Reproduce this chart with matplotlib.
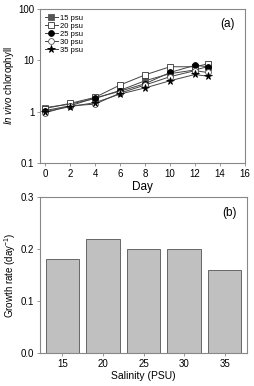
import matplotlib
matplotlib.use("Agg")
import matplotlib.pyplot as plt

plt.rcParams['font.family'] = ['Liberation Sans', 'DejaVu Sans']
plt.rcParams['mathtext.fontset'] = 'custom'
plt.rcParams['mathtext.rm'] = 'Liberation Sans'
plt.rcParams['mathtext.it'] = 'Liberation Sans:italic'

days = [0, 2, 4, 6, 8, 10, 12, 13]
psu15 = [1.2, 1.4, 1.8, 2.6, 4.0, 5.5, 6.5, 7.5]
psu20 = [1.15, 1.45, 1.9, 3.3, 5.2, 7.5, 7.5, 8.5]
psu25 = [1.05, 1.3, 1.85, 2.5, 3.5, 5.8, 8.0, 7.5]
psu30 = [0.95, 1.3, 1.4, 2.3, 3.3, 4.8, 6.3, 5.8]
psu35 = [1.0, 1.25, 1.5, 2.2, 2.9, 4.0, 5.3, 4.9]

salinity = ['15', '20', '25', '30', '35']
growth = [0.18, 0.22, 0.20, 0.20, 0.16]

fig = plt.figure(figsize=(2.54, 3.86), dpi=100)
ax1 = fig.add_axes([40/254, 1-163/386, 205/254, 154/386])
ax2 = fig.add_axes([40/254, 1-353/386, 207/254, 156/386])

fs = 7
series = [
    (psu15, 's', '#555555', '#555555', '15 psu'),
    (psu20, 's', 'white', '#333333', '20 psu'),
    (psu25, 'o', 'black', 'black', '25 psu'),
    (psu30, 'o', 'white', '#555555', '30 psu'),
    (psu35, '*', 'black', 'black', '35 psu'),
]
for vals, m, fc, ec, lab in series:
    ax1.plot(days, vals, marker=m, color='#444444', lw=0.7, mfc=fc, mec=ec,
             ms=4.2 if m != '*' else 5.5, mew=0.6, label=lab)
ax1.set_yscale('log')
ax1.set_ylim(0.1, 100)
ax1.set_xlim(-0.4, 16)
ax1.set_xticks(range(0, 17, 2))
ax1.set_yticks([0.1, 1, 10, 100])
ax1.set_yticklabels(['0.1', '1', '10', '100'])
ax1.minorticks_off()
ax1.set_xlabel('Day', fontsize=8.5, labelpad=1.5)
ax1.set_ylabel(r'$\it{In\ vivo}$ chlorophyll', fontsize=7, labelpad=2)
ax1.text(0.95, 0.90, '(a)', transform=ax1.transAxes, ha='right', va='center', fontsize=8.5)
leg = ax1.legend(loc='upper left', fontsize=5.5, frameon=False, handlelength=1.6,
                 handletextpad=0.3, labelspacing=0.1, borderaxespad=0.3)

x = list(range(len(salinity)))
ax2.bar(x, growth, width=0.82, color='#c0c0c0', edgecolor='#666666', lw=0.7)
ax2.set_xlim(-0.55, 4.55)
ax2.set_ylim(0, 0.3)
ax2.set_xticks(x)
ax2.set_xticklabels(salinity)
ax2.set_yticks([0.0, 0.1, 0.2, 0.3])
ax2.set_xlabel('Salinity (PSU)', fontsize=7.5, labelpad=2)
ax2.set_ylabel(r'Growth rate (day$^{\mathregular{-1}}$)', fontsize=7, labelpad=2)
ax2.text(0.95, 0.90, '(b)', transform=ax2.transAxes, ha='right', va='center', fontsize=8.5)

for ax in (ax1, ax2):
    for s in ax.spines.values():
        s.set_color('#888888')
        s.set_linewidth(0.8)
    ax.tick_params(labelsize=fs, length=2.5, width=0.6, color='#888888', pad=1.5)

fig.savefig('out.png', dpi=100)
